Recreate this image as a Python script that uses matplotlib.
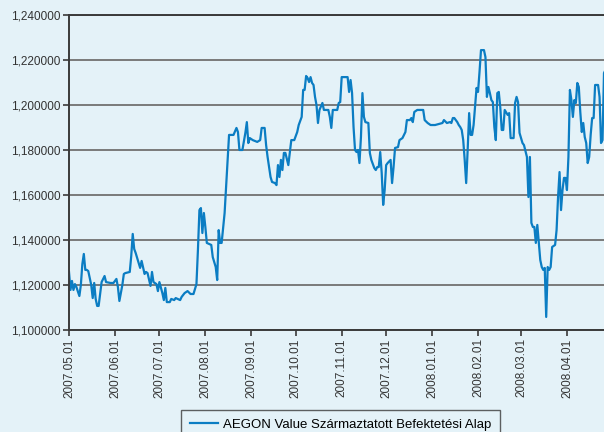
import pandas as pd
import matplotlib
matplotlib.use("Agg")
import matplotlib.pyplot as plt
import matplotlib.dates as mdates
from matplotlib.ticker import FuncFormatter

# napok 2007.05.01-tol, es az arfolyam
napok = [0, 1, 2, 3, 4, 5, 7, 8, 9, 10, 11, 12, 13, 15, 16, 17, 18, 19, 20, 21,
         22, 24, 25, 28, 30, 32, 33, 34, 36, 37, 38, 41, 42, 43, 44, 45, 47, 48, 49, 51,
         52, 53, 55, 56, 57, 59, 60, 61, 63, 64, 65, 66, 68, 69, 71, 72, 75, 76, 78, 80,
         82, 84, 86, 87, 88, 89, 90, 91, 92, 93, 96, 97, 99, 100, 101, 102, 103, 105, 106, 107,
         108, 111, 113, 114, 115, 117, 119, 120, 121, 122, 124, 127, 129, 130, 132, 133, 134, 136, 137, 139,
         140, 141, 142, 143, 144, 145, 146, 148, 149, 150, 152, 154, 155, 157, 158, 159, 160, 161, 162, 163,
         164, 165, 166, 167, 168, 169, 171, 172, 175, 176, 177, 178, 181, 182, 183, 184, 188, 189, 190, 191,
         192, 193, 194, 195, 196, 197, 198, 199, 200, 202, 203, 204, 206, 207, 208, 209, 210, 211, 212, 213,
         214, 215, 217, 218, 219, 220, 222, 223, 225, 226, 227, 228, 230, 231, 232, 233, 235, 239, 240, 242,
         244, 247, 252, 253, 255, 257, 258, 259, 260, 262, 263, 264, 265, 266, 267, 268, 269, 270, 271, 272,
         273, 275, 276, 277, 278, 280, 281, 282, 283, 284, 285, 286, 287, 288, 289, 290, 291, 292, 293, 294,
         296, 297, 298, 300, 301, 302, 303, 304, 306, 307, 309, 310, 311, 312, 313, 314, 315, 316, 318, 319,
         320, 321, 322, 323, 324, 325, 326, 328, 329, 330, 331, 332, 333, 334, 335, 336, 337, 338, 339, 340,
         341, 342, 343, 344, 345, 346, 347, 348, 349, 350, 351, 352, 353, 354, 355, 357, 358, 359, 360, 361,
         362]

arfolyam = [1.1258, 1.1178, 1.1218, 1.1178, 1.1204, 1.1191, 1.1151, 1.1200, 1.1293, 1.1338,
            1.1267, 1.1267, 1.1262, 1.1200, 1.1142, 1.1209, 1.1138, 1.1107, 1.1107, 1.1160,
            1.1213, 1.1240, 1.1213, 1.1209, 1.1209, 1.1227, 1.1191, 1.1129, 1.1200, 1.1249,
            1.1253, 1.1258, 1.1329, 1.1427, 1.1360, 1.1342, 1.1298, 1.1276, 1.1307, 1.1249,
            1.1258, 1.1253, 1.1196, 1.1258, 1.1213, 1.1204, 1.1173, 1.1213, 1.1164, 1.1133,
            1.1187, 1.1124, 1.1124, 1.1138, 1.1133, 1.1142, 1.1133, 1.1147, 1.1164, 1.1173,
            1.1160, 1.1160, 1.1204, 1.1356, 1.1533, 1.1542, 1.1431, 1.1520, 1.1458, 1.1387,
            1.1378, 1.1324, 1.1280, 1.1222, 1.1444, 1.1387, 1.1387, 1.1520, 1.1636, 1.1756,
            1.1867, 1.1867, 1.1898, 1.1880, 1.1800, 1.1800, 1.1876, 1.1924, 1.1831, 1.1853,
            1.1844, 1.1836, 1.1844, 1.1898, 1.1898, 1.1822, 1.1769, 1.1680, 1.1658, 1.1653,
            1.1644, 1.1733, 1.1680, 1.1756, 1.1711, 1.1787, 1.1787, 1.1733, 1.1787, 1.1844,
            1.1844, 1.1880, 1.1911, 1.1947, 1.2067, 1.2067, 1.2129, 1.2120, 1.2102, 1.2124,
            1.2098, 1.2089, 1.2036, 1.2000, 1.1920, 1.1978, 1.2009, 1.1978, 1.1978, 1.1947,
            1.1898, 1.1978, 1.1978, 1.2009, 1.2013, 1.2124, 1.2124, 1.2058, 1.2111, 1.2053,
            1.1902, 1.1800, 1.1791, 1.1800, 1.1742, 1.1858, 1.2053, 1.1947, 1.1924, 1.1920,
            1.1787, 1.1756, 1.1720, 1.1711, 1.1724, 1.1724, 1.1791, 1.1698, 1.1556, 1.1622,
            1.1733, 1.1742, 1.1756, 1.1653, 1.1724, 1.1809, 1.1813, 1.1844, 1.1853, 1.1867,
            1.1880, 1.1933, 1.1933, 1.1942, 1.1924, 1.1969, 1.1978, 1.1978, 1.1933, 1.1920,
            1.1911, 1.1911, 1.1920, 1.1933, 1.1920, 1.1924, 1.1920, 1.1942, 1.1942, 1.1924,
            1.1911, 1.1902, 1.1889, 1.1844, 1.1756, 1.1653, 1.1800, 1.1964, 1.1867, 1.1867,
            1.1911, 1.2076, 1.2058, 1.2147, 1.2244, 1.2244, 1.2213, 1.2036, 1.2080, 1.2053,
            1.2022, 1.2013, 1.1902, 1.1844, 1.2053, 1.2058, 1.1991, 1.1889, 1.1889, 1.1978,
            1.1956, 1.1964, 1.1853, 1.1853, 1.2009, 1.2036, 1.2013, 1.1876, 1.1831, 1.1822,
            1.1769, 1.1591, 1.1769, 1.1476, 1.1458, 1.1458, 1.1387, 1.1467, 1.1311, 1.1280,
            1.1267, 1.1276, 1.1058, 1.1280, 1.1267, 1.1280, 1.1369, 1.1378, 1.1444, 1.1591,
            1.1702, 1.1533, 1.1622, 1.1676, 1.1676, 1.1622, 1.1769, 1.2067, 1.2022, 1.1947,
            1.2022, 1.2009, 1.2098, 1.2080, 1.1969, 1.1880, 1.1920, 1.1858, 1.1831, 1.1742,
            1.1769, 1.1867, 1.1942, 1.1942, 1.2089, 1.2089, 1.2036, 1.1831, 1.1844, 1.2142,
            1.2156]

honap_kezdet = ["2007-05-01", "2007-06-01", "2007-07-01", "2007-08-01", "2007-09-01",
                "2007-10-01", "2007-11-01", "2007-12-01", "2008-01-01", "2008-02-01",
                "2008-03-01", "2008-04-01"]
y_ticks = [1.10, 1.12, 1.14, 1.16, 1.18, 1.20, 1.22, 1.24]
cimke = "AEGON Value Származtatott Befektetési Alap"

kezdet = pd.Timestamp("2007-05-01")
datumok = kezdet + pd.to_timedelta(napok, unit="D")

hatter = "#e4f2f8"
kek = "#0b7dc3"

plt.rcParams['font.family'] = ['Liberation Sans', 'DejaVu Sans']

fig = plt.figure(figsize=(6.04, 4.32), dpi=100, facecolor=hatter)
ax = fig.add_axes([69 / 604, 1 - 330 / 432, 1 - 69 / 604, 315 / 432])
ax.set_facecolor(hatter)

ax.plot(datumok, arfolyam, color=kek, lw=1.6, label=cimke)

ax.set_ylim(1.10, 1.24)
ax.set_yticks(y_ticks)
ax.yaxis.set_major_formatter(FuncFormatter(lambda v, p: f"{v:.6f}".replace(".", ",")))
ax.set_xlim(kezdet, kezdet + pd.Timedelta(days=361))
ax.set_xticks(pd.to_datetime(honap_kezdet))
ax.xaxis.set_major_formatter(mdates.DateFormatter("%Y.%m.%d"))
plt.setp(ax.get_xticklabels(), rotation=90)

ax.grid(axis='y', color='#7a7a7a', lw=1.4)
ax.grid(axis='x', visible=False)
ax.set_axisbelow(True)
for s in ['left', 'bottom', 'top']:
    ax.spines[s].set_color('#3a3a3a')
    ax.spines[s].set_linewidth(1.4)
ax.spines['right'].set_visible(False)
ax.tick_params(axis='both', colors='#3a3a3a', labelcolor='#333333', labelsize=8.5,
               length=4, width=1.2, pad=2)

leg = fig.legend(loc='upper center', bbox_to_anchor=(340.5 / 604, 1 - 410 / 432),
                 borderaxespad=0, fontsize=9.5, frameon=True, fancybox=False,
                 handlelength=2.1, borderpad=0.65, handletextpad=0.4)
leg.get_frame().set_edgecolor('#3a3a3a')
leg.get_frame().set_facecolor(hatter)
leg.get_frame().set_linewidth(1.0)

fig.savefig("out.png", dpi=100, facecolor=hatter)
